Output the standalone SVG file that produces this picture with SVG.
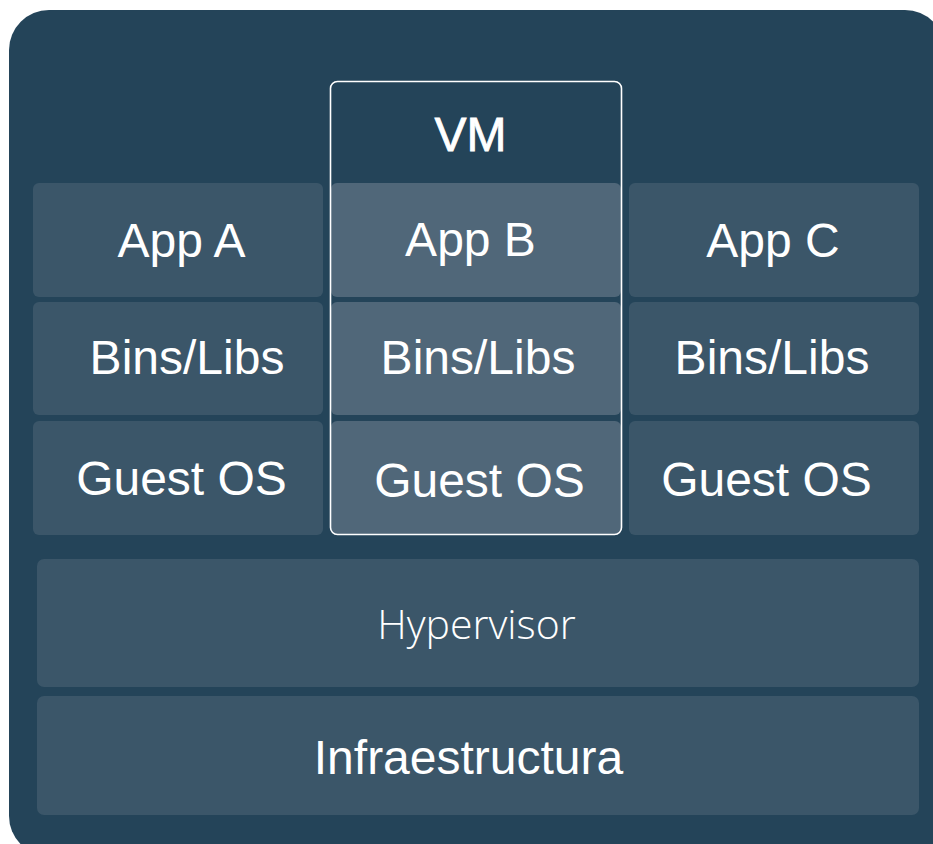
<svg xmlns="http://www.w3.org/2000/svg" width="933" height="844" viewBox="0 0 933 844">
<style>
.bg{fill:#244459}
.box{fill:#3b5669}
.boxb{fill:#506779}
.t{fill:#ffffff;font-family:"Liberation Sans",Arial,sans-serif;font-size:48px;text-anchor:middle}
.h{fill:#ffffff;font-family:"Open Sans",sans-serif;font-weight:300;font-size:41px;text-anchor:middle}
.vm{fill:none;stroke:#ffffff;stroke-width:1.6}
</style>
<rect class="bg" x="9" y="10" width="936" height="846" rx="40"/>
<g id="app-a"><rect class="box" x="33" y="183" width="290" height="114" rx="6"/><text class="t" x="181.5" y="257">App A</text></g>
<g id="bins-a"><rect class="box" x="33" y="302" width="290" height="113" rx="6"/><text class="t" x="187" y="374">Bins/Libs</text></g>
<g id="guest-a"><rect class="box" x="33" y="421" width="290" height="114" rx="6"/><text class="t" x="181.5" y="495">Guest OS</text></g>
<g id="app-b"><rect class="boxb" x="331" y="183" width="290" height="114" rx="6"/><text class="t" x="470.5" y="256">App B</text></g>
<g id="bins-b"><rect class="boxb" x="331" y="302" width="290" height="113" rx="6"/><text class="t" x="478" y="374">Bins/Libs</text></g>
<g id="guest-b"><rect class="boxb" x="331" y="421" width="290" height="113" rx="6"/><text class="t" x="479.5" y="497">Guest OS</text></g>
<g id="vm"><rect class="vm" x="330.5" y="81.5" width="291" height="453" rx="7"/><text class="t" x="470.5" y="151" font-size="42" stroke="#ffffff" stroke-width="0.8">VM</text></g>
<g id="app-c"><rect class="box" x="629" y="183" width="290" height="114" rx="6"/><text class="t" x="773" y="257">App C</text></g>
<g id="bins-c"><rect class="box" x="629" y="302" width="290" height="113" rx="6"/><text class="t" x="772" y="374">Bins/Libs</text></g>
<g id="guest-c"><rect class="box" x="629" y="421" width="290" height="114" rx="6"/><text class="t" x="766.5" y="496">Guest OS</text></g>
<g id="hypervisor"><rect class="box" x="37" y="559" width="882" height="128" rx="7"/><text class="h" x="476.5" y="639">Hypervisor</text></g>
<g id="infra"><rect class="box" x="37" y="696" width="882" height="119" rx="7"/><text class="t" x="468.5" y="774">Infraestructura</text></g>
<g id="connectors"></g>
</svg>
